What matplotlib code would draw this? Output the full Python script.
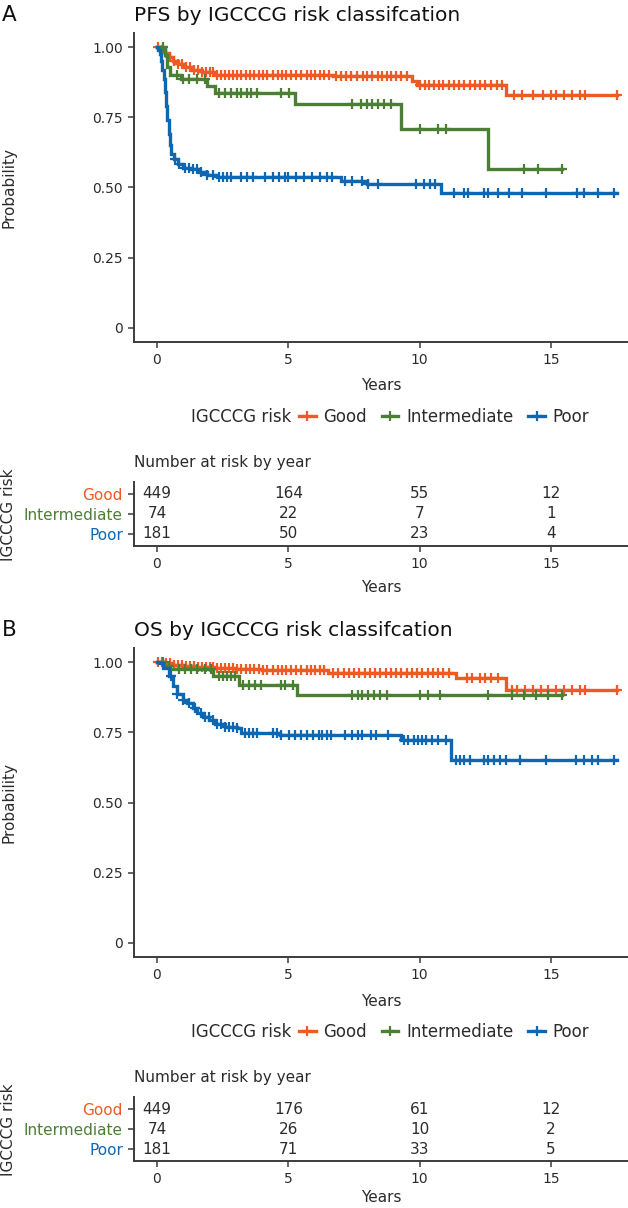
import matplotlib
matplotlib.use("Agg")
import matplotlib.pyplot as plt
import numpy as np
from matplotlib.lines import Line2D

# ---------------- data ----------------
groups = ["Good", "Intermediate", "Poor"]
colors = ["#EE5A24", "#4B7F34", "#0F67B1"]

# PFS step curves (time of step, survival after step)
pfs_good_time = [0, 0.15, 0.3, 0.45, 0.6, 0.8, 1.0, 1.3, 1.7, 2.2, 6.7, 9.7, 9.9, 13.3]
pfs_good_surv = [1.0, 0.99, 0.98, 0.965, 0.952, 0.94, 0.93, 0.92, 0.91, 0.902, 0.896, 0.88, 0.865, 0.828]
pfs_good_end = 17.5
pfs_good_censor = [0.05, 0.2, 0.35, 0.5, 0.65, 0.8, 0.95, 1.1, 1.25, 1.4, 1.55, 1.7, 1.85, 2.0,
                   2.15, 2.3, 2.45, 2.6, 2.75, 2.9, 3.05, 3.2, 3.4, 3.55, 3.7, 3.9, 4.05, 4.2,
                   4.4, 4.6, 4.75, 4.9, 5.1, 5.3, 5.5, 5.7, 5.85, 6.0, 6.2, 6.35, 6.55, 6.8,
                   7.0, 7.2, 7.4, 7.6, 7.85, 8.0, 8.2, 8.4, 8.55, 8.75, 8.9, 9.1, 9.3, 9.5,
                   10.0, 10.2, 10.35, 10.55, 10.75, 10.9, 11.1, 11.3, 11.5, 11.7, 11.9, 12.1,
                   12.3, 12.5, 12.7, 12.95, 13.15, 13.6, 13.9, 14.3, 14.7, 15.0, 15.2, 15.5,
                   15.8, 16.1, 16.3, 17.5]

pfs_int_time = [0, 0.3, 0.4, 0.5, 0.9, 1.9, 2.2, 5.24, 9.27, 12.6]
pfs_int_surv = [1.0, 0.973, 0.93, 0.90, 0.885, 0.86, 0.837, 0.797, 0.707, 0.567]
pfs_int_end = 15.4
pfs_int_censor = [0.23, 0.76, 0.99, 1.22, 1.52, 1.82, 2.35, 2.58, 2.81, 3.04, 3.19, 3.42, 3.57,
                  3.80, 4.71, 5.01, 7.44, 7.75, 7.98, 8.2, 8.43, 8.66, 8.89, 10.03, 10.7,
                  11.0, 13.98, 14.5, 15.4]

pfs_poor_time = [0, 0.05, 0.1, 0.15, 0.2, 0.25, 0.3, 0.35, 0.4, 0.45, 0.5, 0.55, 0.65, 0.8,
                 1.0, 1.3, 1.6, 1.9, 2.3, 7.0, 8.0, 10.8]
pfs_poor_surv = [1.0, 0.99, 0.975, 0.95, 0.92, 0.885, 0.84, 0.79, 0.74, 0.69, 0.65, 0.62,
                 0.60, 0.585, 0.57, 0.565, 0.555, 0.545, 0.538, 0.524, 0.512, 0.48]
pfs_poor_end = 17.5
pfs_poor_censor = [0.68, 0.84, 1.06, 1.22, 1.37, 1.52, 1.67, 1.9, 2.13, 2.35, 2.5, 2.66, 2.81,
                   3.19, 3.42, 3.65, 4.1, 4.4, 4.63, 4.86, 5.0, 5.3, 5.6, 5.9, 6.2, 6.46,
                   6.68, 7.14, 7.44, 7.82, 8.05, 8.43, 9.87, 10.18, 10.4, 10.6, 11.3, 11.7,
                   11.85, 12.46, 12.6, 13.0, 13.4, 13.9, 14.8, 16.0, 16.26, 16.8, 17.4]

# OS step curves
os_good_time = [0, 0.3, 0.6, 1.0, 1.5, 2.2, 3.0, 4.0, 6.5, 11.4, 13.3]
os_good_surv = [1.0, 0.995, 0.99, 0.986, 0.983, 0.98, 0.977, 0.972, 0.962, 0.942, 0.901]
os_good_end = 17.5
os_good_censor = [0.05, 0.2, 0.35, 0.5, 0.65, 0.8, 0.95, 1.1, 1.25, 1.4, 1.55, 1.7, 1.85, 2.0,
                  2.15, 2.3, 2.45, 2.6, 2.75, 2.9, 3.05, 3.2, 3.4, 3.55, 3.7, 3.9, 4.05, 4.2,
                  4.4, 4.6, 4.75, 4.9, 5.1, 5.3, 5.5, 5.7, 5.85, 6.0, 6.2, 6.35, 6.7, 6.9,
                  7.1, 7.3, 7.5, 7.7, 7.9, 8.1, 8.3, 8.5, 8.7, 8.9, 9.1, 9.3, 9.5, 9.7, 9.9,
                  10.1, 10.3, 10.5, 10.7, 10.9, 11.1, 11.8, 12.0, 12.3, 12.5, 12.7, 13.0,
                  13.5, 13.7, 14.0, 14.3, 14.6, 14.9, 15.2, 15.5, 15.8, 16.1, 16.3, 17.5]

os_int_time = [0, 0.25, 0.5, 2.13, 3.11, 5.32]
os_int_surv = [1.0, 0.986, 0.975, 0.95, 0.918, 0.882]
os_int_end = 15.4
os_int_censor = [0.23, 0.46, 0.84, 1.06, 1.29, 1.52, 1.82, 2.05, 2.35, 2.5, 2.66, 2.81, 2.96,
                 3.27, 3.49, 3.72, 3.95, 4.71, 4.86, 5.17, 7.44, 7.67, 7.82, 8.05, 8.28, 8.5,
                 8.74, 10.03, 10.33, 10.79, 12.6, 13.5, 13.98, 14.43, 14.9, 15.4]

os_poor_time = [0, 0.08, 0.23, 0.46, 0.61, 0.76, 0.99, 1.14, 1.37, 1.52, 1.75, 1.98, 2.2,
                2.58, 3.04, 3.19, 4.7, 9.27, 11.2]
os_poor_surv = [1.0, 0.997, 0.98, 0.949, 0.915, 0.885, 0.866, 0.855, 0.837, 0.82, 0.805,
                0.795, 0.78, 0.77, 0.765, 0.747, 0.739, 0.722, 0.651]
os_poor_end = 17.5
os_poor_censor = [0.53, 0.76, 0.99, 1.22, 1.44, 1.67, 1.82, 1.97, 2.13, 2.28, 2.43, 2.58, 2.73,
                  2.89, 3.04, 3.34, 3.49, 3.65, 3.8, 4.41, 4.56, 4.71, 5.01, 5.24, 5.47, 5.7,
                  5.92, 6.15, 6.3, 6.46, 6.61, 7.14, 7.44, 7.67, 7.82, 8.13, 8.35, 8.81, 9.42,
                  9.57, 9.8, 9.95, 10.1, 10.25, 10.48, 10.71, 11.01, 11.39, 11.54, 11.7,
                  11.92, 12.46, 12.61, 12.84, 13.06, 13.29, 13.82, 14.81, 15.95, 16.25,
                  16.56, 16.79, 17.39]

risk_years = [0, 5, 10, 15]
pfs_risk_good = [449, 164, 55, 12]
pfs_risk_int = [74, 22, 7, 1]
pfs_risk_poor = [181, 50, 23, 4]
os_risk_good = [449, 176, 61, 12]
os_risk_int = [74, 26, 10, 2]
os_risk_poor = [181, 71, 33, 5]

# ---------------- layout ----------------
W, H = 628, 1208
fig = plt.figure(figsize=(W / 100, H / 100), dpi=100)
plt.rcParams["font.family"] = ["DejaVu Sans"]

AXC = "#3c3c3c"
TXT = "#2b2b2b"
XLIM = (-0.875, 17.93)


def rect(left, top, right, bottom):
    return [left / W, 1 - bottom / H, (right - left) / W, (bottom - top) / H]


def fx(px):
    return px / W


def fy(py):
    return 1 - py / H


def style_axes(ax):
    for s in ["top", "right"]:
        ax.spines[s].set_visible(False)
    for s in ["left", "bottom"]:
        ax.spines[s].set_color(AXC)
        ax.spines[s].set_linewidth(1.4)
    ax.tick_params(axis="both", colors=AXC, labelcolor=TXT, length=4.5, width=1.1,
                   labelsize=10, pad=3.5)


def km_panel(ax, curves):
    for (t, s, end, cens), col in zip(curves, colors):
        x = list(t) + [end]
        y = list(s) + [s[-1]]
        ax.step(x, y, where="post", color=col, lw=2.4, solid_joinstyle="miter")
        idx = np.searchsorted(np.array(t), np.array(cens), side="right") - 1
        cy = np.array(s)[idx]
        ax.plot(cens, cy, ls="none", marker="+", ms=7.5, mew=1.6, color=col)
    ax.set_xlim(*XLIM)
    ax.set_ylim(-0.05, 1.05)
    ax.set_xticks([0, 5, 10, 15])
    ax.set_yticks([0, 0.25, 0.5, 0.75, 1.0])
    ax.set_yticklabels(["0", "0.25", "0.50", "0.75", "1.00"])
    style_axes(ax)


def risk_panel(ax, rows):
    ax.set_xlim(*XLIM)
    ax.set_ylim(0.4, 3.6)
    ax.set_xticks([0, 5, 10, 15])
    ax.set_yticks([3, 2, 1])
    ax.set_yticklabels(groups)
    style_axes(ax)
    ax.tick_params(axis="y", labelsize=11)
    for lab, col in zip(ax.get_yticklabels(), colors):
        lab.set_color(col)
    for vals, ypos in zip(rows, [3, 2, 1]):
        for yr, v in zip(risk_years, vals):
            ax.text(yr, ypos, str(v), ha="center", va="center", fontsize=11, color=TXT)


def legend_row(ypix):
    fig.text(fx(191), fy(ypix), "IGCCCG risk", ha="left", va="center", fontsize=12, color=TXT)
    handles = [Line2D([], [], color=c, lw=2.4, marker="+", ms=7.5, mew=1.6) for c in colors]
    fig.legend(handles, groups, loc="center left", bbox_to_anchor=(fx(299), fy(ypix)),
               ncol=3, frameon=False, fontsize=12, handlelength=1.0, handletextpad=0.45,
               columnspacing=0.9, borderaxespad=0, borderpad=0, labelcolor=TXT)


panels = [
    dict(letter="A", title="PFS by IGCCCG risk classifcation", base=0,
         curves=[(pfs_good_time, pfs_good_surv, pfs_good_end, pfs_good_censor),
                 (pfs_int_time, pfs_int_surv, pfs_int_end, pfs_int_censor),
                 (pfs_poor_time, pfs_poor_surv, pfs_poor_end, pfs_poor_censor)],
         risk=[pfs_risk_good, pfs_risk_int, pfs_risk_poor]),
    dict(letter="B", title="OS by IGCCCG risk classifcation", base=615,
         curves=[(os_good_time, os_good_surv, os_good_end, os_good_censor),
                 (os_int_time, os_int_surv, os_int_end, os_int_censor),
                 (os_poor_time, os_poor_surv, os_poor_end, os_poor_censor)],
         risk=[os_risk_good, os_risk_int, os_risk_poor]),
]

for p in panels:
    b = p["base"]
    fig.text(fx(2), fy(b + 21), p["letter"], ha="left", va="baseline", fontsize=15.5, color="#111111")
    fig.text(fx(134), fy(b + 21), p["title"], ha="left", va="baseline", fontsize=14.5, color="#111111")

    ax = fig.add_axes(rect(134, b + 33, 628, b + 342))
    km_panel(ax, p["curves"])
    fig.text(fx(9), fy(b + 187.5), "Probability", rotation=90, ha="center", va="center",
             fontsize=11, color=TXT)
    fig.text(fx(381), fy(b + 386), "Years", ha="center", va="center", fontsize=11, color=TXT)

    legend_row(b + 417)

    fig.text(fx(134), fy(b + 467), "Number at risk by year", ha="left", va="baseline",
             fontsize=11, color=TXT)
    axr = fig.add_axes(rect(134, b + 482, 628, b + 546))
    risk_panel(axr, p["risk"])
    fig.text(fx(9), fy(b + 515), "IGCCCG risk", rotation=90, ha="center", va="center",
             fontsize=11, color=TXT)
    fig.text(fx(381), fy(min(b + 588, 1198)), "Years", ha="center", va="center", fontsize=11,
             color=TXT)

fig.savefig("out.png", dpi=100)
